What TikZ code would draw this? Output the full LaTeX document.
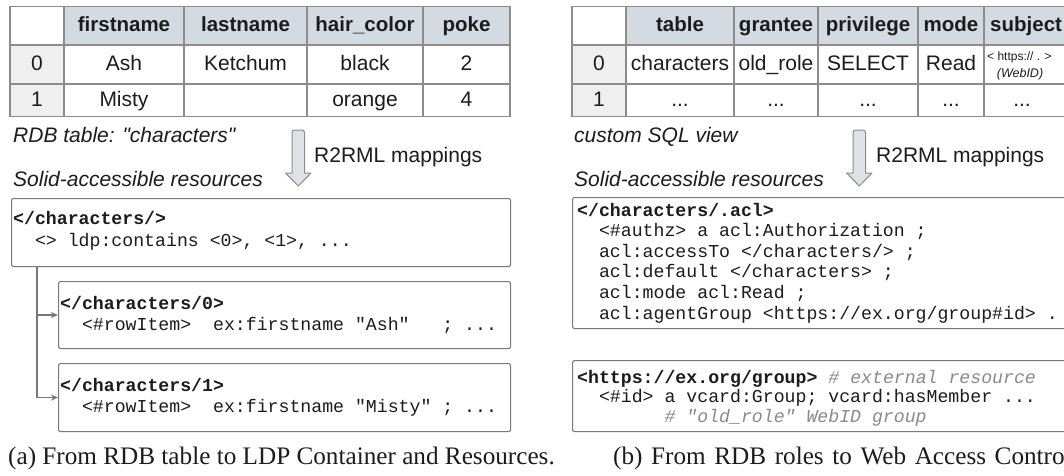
\documentclass[tikz,border=0pt]{standalone}
\usepackage{fontspec}
\usetikzlibrary{arrows.meta}
\newfontfamily\sansf[Ligatures=TeXOff]{Liberation Sans}
\newfontfamily\codef[Ligatures=TeXOff]{Liberation Mono}
\newfontfamily\capf{Liberation Serif}
\definecolor{hdr}{HTML}{D4DAE2}
\definecolor{idx}{HTML}{EFEFEF}
\definecolor{gridc}{HTML}{8C8C8C}
\definecolor{boxline}{HTML}{7A7A7A}
\definecolor{arrowfill}{HTML}{DEE2E7}
\definecolor{comment}{HTML}{8A8A8A}
\definecolor{ink}{HTML}{1C1C1C}
\tikzset{
  cell/.style={anchor=base, inner sep=0pt, font=\sansf\fontsize{21}{24}\selectfont, text=ink},
  headcell/.style={cell, font=\sansf\bfseries\fontsize{20.5}{24}\selectfont},
  tinycell/.style={inner sep=0pt, font=\sansf\fontsize{12}{14}\selectfont, text=ink},
  sublabel/.style={anchor=base west, inner sep=0pt, font=\sansf\itshape\fontsize{21}{24}\selectfont, text=ink},
  maplabel/.style={anchor=base west, inner sep=0pt, font=\sansf\fontsize{21}{24}\selectfont, text=ink},
  codebox/.style={draw=boxline, line width=1.1pt, rounded corners=2pt, anchor=north west, inner sep=0pt, fill=white},
  codeline/.style={anchor=base west, inner sep=0pt, font=\codef\frenchspacing\fontsize{18.2}{20}\selectfont, text=ink},
  branch/.style={draw=gridc!85!black, line width=1.4pt, -{Stealth[length=7pt,width=6pt]}},
  mapflow/.style={draw=gridc, line width=1pt, fill=arrowfill, line join=round},
  gridline/.style={draw=gridc, line width=1.2pt},
  figcap/.style={anchor=base west, inner sep=0pt, font=\capf\fontsize{25.2}{28}\selectfont, text=ink},
}
\newcommand{\cmt}[1]{{\color{comment}\itshape #1}}
\begin{document}
\begin{tikzpicture}[x=1pt, y=-1pt]
\useasboundingbox (0,0) rectangle (1064,475);
\fill[white] (0,0) rectangle (1064,475);
\clip (0,0) rectangle (1064,475);

% ---------------- left: table "characters" ----------------
\fill[hdr] (64,6.5) rectangle (510,45);
\fill[idx] (10,45) rectangle (64,116.5);
\draw[gridline] (10,6.5) rectangle (510,116.5);
\foreach \cx in {64,184,307,423} \draw[gridline] (\cx,6.5) -- (\cx,116.5);
\foreach \ry in {45,84} \draw[gridline] (10,\ry) -- (510,\ry);

\node[headcell] (lh1) at (124,31) {firstname};
\node[headcell] (lh2) at (245.5,31) {lastname};
\node[headcell] (lh3) at (365,31) {hair\_color};
\node[headcell] (lh4) at (466.5,31) {poke};
\node[cell] (li0) at (37,70) {0};
\node[cell] (la1) at (124,70) {Ash};
\node[cell] (la2) at (245.5,70) {Ketchum};
\node[cell] (la3) at (365,70) {black};
\node[cell] (la4) at (466.5,70) {2};
\node[cell] (li1) at (37,106) {1};
\node[cell] (lb1) at (124,106) {Misty};
\node[cell] (lb3) at (365,106) {orange};
\node[cell] (lb4) at (466.5,106) {4};

\node[sublabel] (ltab) at (13,142) {RDB table: "characters"};
\node[sublabel] (lres) at (13,186) {Solid-accessible resources};

% ---------------- right: table of grants ----------------
\fill[hdr] (626,6.5) rectangle (1080,45);
\fill[idx] (572,45) rectangle (626,116.5);
\draw[gridline] (572,6.5) rectangle (1080,116.5);
\foreach \cx in {626,734,818,918,984} \draw[gridline] (\cx,6.5) -- (\cx,116.5);
\foreach \ry in {45,84} \draw[gridline] (572,\ry) -- (1080,\ry);

\node[headcell] (rh1) at (680,31) {table};
\node[headcell] (rh2) at (776,31) {grantee};
\node[headcell] (rh3) at (868,31) {privilege};
\node[headcell] (rh4) at (951,31) {mode};
\node[headcell, anchor=base west] (rh5) at (990,31) {subject};
\node[cell] (ri0) at (599,70) {0};
\node[cell] (ra1) at (680,70) {characters};
\node[cell] (ra2) at (776,70) {old\_role};
\node[cell] (ra3) at (868,70) {SELECT};
\node[cell] (ra4) at (951,70) {Read};
\node[tinycell, anchor=base west] (ra5) at (987,60) {< https:// . >};
\node[tinycell, anchor=base, font=\sansf\itshape\fontsize{12.5}{14}\selectfont] (ra6) at (1020,77) {(WebID)};
\node[cell] (ri1) at (599,106) {1};
\node[cell] (rb1) at (680,106) {...};
\node[cell] (rb2) at (776,106) {...};
\node[cell] (rb3) at (868,106) {...};
\node[cell] (rb4) at (951,106) {...};
\node[cell] (rb5) at (1022,106) {...};

\node[sublabel] (rtab) at (574,142) {custom SQL view};
\node[sublabel] (rres) at (574,186) {Solid-accessible resources};

% ---------------- mapping arrows ----------------
\foreach \ax in {292,853} {
  \draw[mapflow] (\ax,173) [rounded corners=2.5pt] -- (\ax,130) -- (\ax+12.5,130) [sharp corners] -- (\ax+12.5,173)
    -- (\ax+19,173) -- (\ax+6.25,186) -- (\ax-6.5,173) -- cycle;
}
\node[maplabel] (lmap) at (314,162) {R2RML mappings};
\node[maplabel] (rmap) at (876,162) {R2RML mappings};

% ---------------- left: LDP container and resources ----------------
\node[codebox, minimum width=499pt, minimum height=68pt] (cont) at (11,198) {};
\node[codebox, minimum width=452pt, minimum height=67pt] (row0) at (58,281) {};
\node[codebox, minimum width=452pt, minimum height=68pt] (row1) at (58,363) {};

\coordinate (trunk) at ([xshift=26pt]cont.south west);
\draw[branch] (trunk) |- (row0.west);
\draw[branch] (trunk) |- (row1.west);

\node[codeline] (c1) at (13,224) {\bfseries </characters/>};
\node[codeline] (c2) at (13,246) {~~<>~ldp:contains~<0>,~<1>,~...};
\node[codeline] (r01) at (60,309) {\bfseries </characters/0>};
\node[codeline] (r02) at (60,330) {~~<\#rowItem>~~ex:firstname~"Ash"~~~;~...};
\node[codeline] (r11) at (60,391) {\bfseries </characters/1>};
\node[codeline] (r12) at (60,412) {~~<\#rowItem>~~ex:firstname~"Misty"~;~...};

% ---------------- right: ACL resource and group ----------------
\node[codebox, minimum width=600pt, minimum height=131pt] (acl) at (572,197) {};
\node[codebox, minimum width=600pt, minimum height=71pt] (grp) at (572,360) {};

\node[codeline] (a1) at (577,216) {\bfseries </characters/.acl>};
\node[codeline] (a2) at (577,236.6) {~~<\#authz>~a~acl:Authorization~;};
\node[codeline] (a3) at (577,257.2) {~~acl:accessTo~</characters/>~;};
\node[codeline] (a4) at (577,277.8) {~~acl:default~</characters>~;};
\node[codeline] (a5) at (577,298.4) {~~acl:mode~acl:Read~;};
\node[codeline] (a6) at (577,319) {~~acl:agentGroup~<https://ex.org/group\#id>~.};

\node[codeline] (g1) at (577,383) {{\bfseries <https://ex.org/group>}~\cmt{\#~external~resource}};
\node[codeline] (g2) at (577,402.5) {~~<\#id>~a~vcard:Group;~vcard:hasMember~...};
\node[codeline] (g3) at (577,422) {~~~~~~~~\cmt{\#~"old\_role"~WebID~group}};

% ---------------- captions ----------------
\node[figcap] (capa) at (8,464) {(a) From RDB table to LDP Container and Resources.};
\node[figcap] (capb) at (613,464) {\spaceskip=8.6pt (b) From RDB roles to Web Access Control};
\end{tikzpicture}
\end{document}
